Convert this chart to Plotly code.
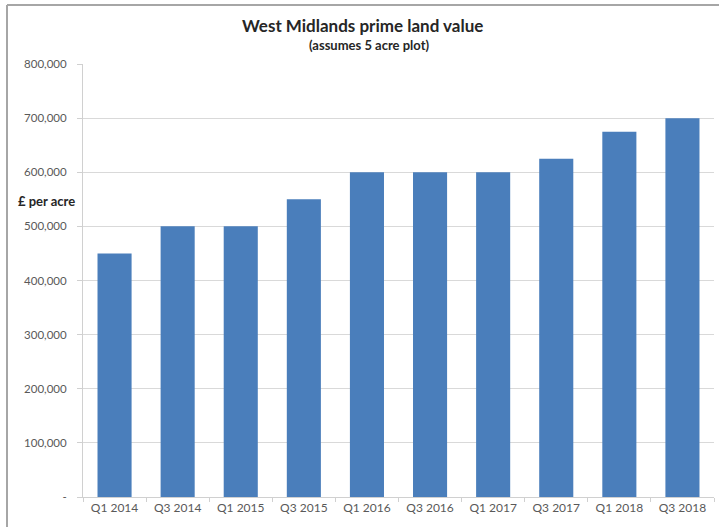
import plotly.graph_objects as go

categories = ["Q1 2014", "Q3 2014", "Q1 2015", "Q3 2015", "Q1 2016",
              "Q3 2016", "Q1 2017", "Q3 2017", "Q1 2018", "Q3 2018"]
values = [450000, 500000, 500000, 550000, 600000,
          600000, 600000, 625000, 675000, 700000]
y_tickvals = [0, 100000, 200000, 300000, 400000, 500000, 600000, 700000, 800000]
y_ticktext = ["-", "100,000", "200,000", "300,000", "400,000",
              "500,000", "600,000", "700,000", "800,000"]

W, H = 719, 527
ml, mr, mt, mb = 83, 5, 64, 30
pw = W - ml - mr
ph = H - mt - mb

def px_x(x):
    return (x - ml) / pw

def px_y(y):
    return 1 - (y - mt) / ph

font_family = "Lato, 'Open Sans', sans-serif"

fig = go.Figure(go.Bar(
    x=categories, y=values,
    marker=dict(color="#4A7EBB", line=dict(width=0)),
    width=0.54,
))

fig.update_layout(
    width=W, height=H,
    margin=dict(l=ml, r=mr, t=mt, b=mb, autoexpand=False),
    paper_bgcolor="white", plot_bgcolor="white",
    showlegend=False,
    font=dict(family=font_family, color="#595959", size=11),
    xaxis=dict(
        type="category",
        showline=True, linecolor="#d0d0d0", linewidth=1,
        ticks="outside", ticklen=4, tickcolor="#d0d0d0",
        tickson="boundaries",
        showgrid=False,
        automargin=False,
        tickfont=dict(size=12, color="#595959"),
    ),
    yaxis=dict(
        range=[0, 800000],
        tickvals=y_tickvals, ticktext=y_ticktext,
        showline=True, linecolor="#d0d0d0", linewidth=1,
        ticks="outside", ticklen=5, tickcolor="#d0d0d0",
        showgrid=True, gridcolor="#d9d9d9", gridwidth=1,
        zeroline=False,
        automargin=False,
        tickfont=dict(size=11.5, color="#595959"),
        ticklabelstandoff=8,
    ),
    annotations=[
        dict(text="<b>West Midlands prime land value</b>",
             xref="paper", yref="paper", x=px_x(362), y=px_y(25),
             xanchor="center", yanchor="middle", showarrow=False,
             font=dict(size=17, color="#262626", family=font_family)),
        dict(text="<b>(assumes 5 acre plot)</b>",
             xref="paper", yref="paper", x=px_x(369), y=px_y(45),
             xanchor="center", yanchor="middle", showarrow=False,
             font=dict(size=13, color="#262626", family=font_family)),
        dict(text="<b>£ per acre</b>",
             xref="paper", yref="paper", x=px_x(46), y=px_y(201),
             xanchor="center", yanchor="middle", showarrow=False,
             font=dict(size=13, color="#262626", family=font_family)),
    ],
    shapes=[
        dict(type="line", xref="paper", yref="paper",
             x0=px_x(7), x1=px_x(719), y0=px_y(5), y1=px_y(5),
             line=dict(color="#a6a6a6", width=2)),
        dict(type="line", xref="paper", yref="paper",
             x0=px_x(7), x1=px_x(7), y0=px_y(5), y1=px_y(527),
             line=dict(color="#a6a6a6", width=2)),
    ],
)

fig.write_html("out.html", config={"displayModeBar": False},
               post_script="document.body.style.margin='0';")
